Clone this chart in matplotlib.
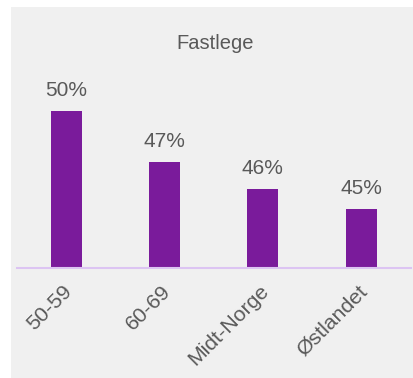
import matplotlib
matplotlib.use('Agg')
import matplotlib.pyplot as plt
from matplotlib.patches import Rectangle
from matplotlib.transforms import ScaledTranslation

categories = ['50-59', '60-69', 'Midt-Norge', 'Østlandet']
values = [50.0, 47.4, 46.0, 45.0]
title = 'Fastlege'

BAR_COLOR = '#7a1b9b'
TEXT_COLOR = '#595959'
PANEL_COLOR = '#f0f0f0'
BASE_COLOR = '#dcc4f2'

W, H = 413, 378
plt.rcParams['font.family'] = ['Liberation Sans', 'DejaVu Sans']

fig = plt.figure(figsize=(W / 100, H / 100), dpi=100, facecolor='white')

# gray chart panel (white margin on top and left)
fig.patches.append(Rectangle((11 / W, 0), 1 - 11 / W, 1 - 7 / H,
                             transform=fig.transFigure, facecolor=PANEL_COLOR,
                             edgecolor='none', zorder=-10))

base_px = 267.5
top_px = 60
ax = fig.add_axes([17 / W, 1 - base_px / H, (410.5 - 17) / W, (base_px - top_px) / H])
ax.set_facecolor('none')
ax.set_zorder(1)

x = range(len(categories))
ax.bar(x, values, width=0.315, color=BAR_COLOR, zorder=2)
ax.set_xlim(-0.5, 3.5)
ax.set_ylim(42, 42 + (base_px - top_px) / 19.56)

for xi, v in zip(x, values):
    ax.annotate(f'{v:.0f}%', (xi, v), xytext=(0, 10.8), textcoords='offset points',
                ha='center', va='baseline', fontsize=15, color=TEXT_COLOR)

for side in ['top', 'right', 'left']:
    ax.spines[side].set_visible(False)
ax.spines['bottom'].set_color(BASE_COLOR)
ax.spines['bottom'].set_linewidth(1.5)
ax.set_yticks([])
ax.set_xticks(list(x))
ax.set_xticklabels(categories, rotation=45, ha='right', va='center',
                   rotation_mode='anchor', fontsize=15.3, color=TEXT_COLOR)
ax.tick_params(axis='x', length=0, pad=15)
# nudge rotated labels a few pixels right
shift = ScaledTranslation(3 / 100, 0, fig.dpi_scale_trans)
for lbl in ax.get_xticklabels():
    lbl.set_transform(lbl.get_transform() + shift)

fig.text(215.5 / W, 1 - 49 / H, title, ha='center', va='baseline',
         fontsize=14.5, color=TEXT_COLOR, zorder=2)

fig.savefig('out.png', dpi=100, facecolor='white')
